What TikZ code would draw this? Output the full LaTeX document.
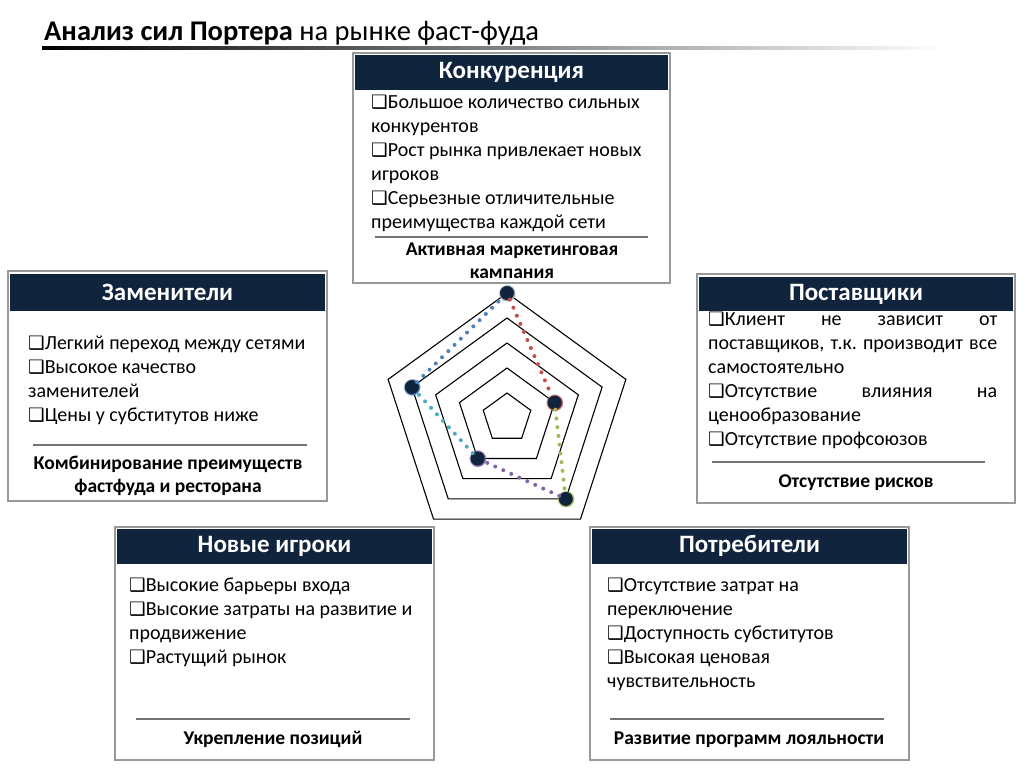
\documentclass[tikz,border=0pt]{standalone}
\usepackage{fontspec}
\usepackage{graphicx}
\setmainfont{Carlito}
\newfontfamily\symfont{DejaVu Sans}
\usetikzlibrary{calc,shadows,fadings}
\definecolor{navy}{RGB}{16,36,62}
\definecolor{linered}{RGB}{192,80,77}
\definecolor{linegreen}{RGB}{155,187,89}
\definecolor{linepurple}{RGB}{128,100,162}
\definecolor{lineteal}{RGB}{75,172,198}
\definecolor{lineblue}{RGB}{79,129,189}
\def\chk{{\symfont\fontsize{18.5}{18.5}\selectfont\char"2751}}
\tikzset{
  frame/.style={draw=black!40, line width=2pt, fill=white},
  head/.style={fill=navy, text=white, font=\bfseries\fontsize{25}{25}\selectfont,
    minimum width=313pt, minimum height=35pt, inner sep=0pt},
  body/.style={anchor=north west, inner sep=0pt, align=flush left,
    font=\fontsize{20}{24}\selectfont\frenchspacing},
  foot/.style={anchor=north, inner sep=0pt, align=center,
    font=\bfseries\fontsize{19.5}{23}\selectfont},
  sepline/.style={draw=black!55, line width=2.5pt},
  dot/.style={circle, fill=navy, minimum size=14pt, inner sep=0pt,
    circular glow={fill=#1}},
  conn/.style={draw=#1, line width=4pt, line cap=round, dash pattern=on 0pt off 8.8pt}
}
\begin{document}
\begin{tikzpicture}[x=1pt, y=-1pt]
  %%%%% START %%%%%
  \useasboundingbox[fill=white] (0,0) rectangle (1024,768);

  % title
  \node[anchor=base west, inner sep=0pt, font=\fontsize{28.5}{28.5}\selectfont] (title) at (44,41)
    {\textbf{Анализ сил Портера} на рынке фаст-фуда};
  \shade[left color=black, right color=white] (42,46.5) rectangle (945,49.5);

  % Конкуренция
  \draw[frame] (353,53) rectangle (670,283);
  \node[head] (konkH) at (511.5,72.5) {Конкуренция};
  \node[body, text width=290pt] (konkB) at (371,91.5) {\strut\chk Большое количество сильных\\
    конкурентов\\
    \chk Рост рынка привлекает новых\\
    игроков\\
    \chk Серьезные отличительные\\
    преимущества каждой сети};
  \draw[sepline] (375,237) -- (648,237);
  \node[foot] (konkF) at (512,239) {\strut Активная маркетинговая\\ кампания};

  % Заменители
  \draw[frame] (8,271) rectangle (327,501);
  \node[head, minimum width=315pt, minimum height=37pt] (zamH) at (167.5,292.5) {Заменители};
  \node[body, text width=290pt] (zamB) at (28,332.5) {\strut\chk Легкий переход между сетями\\
    \chk Высокое качество\\
    заменителей\\
    \chk Цены у субститутов ниже};
  \draw[sepline] (33,445) -- (307,445);
  \node[foot] (zamF) at (168,453) {\strut Комбинирование преимуществ\\ фастфуда и ресторана};

  % Поставщики
  \draw[frame] (697,274) rectangle (1015,503);
  \node[head, minimum width=314pt, minimum height=34pt] (postH) at (856,294) {Поставщики};
  \node[body, text width=289pt] (postB) at (708,308.5) {\strut\makebox[\hsize][s]{\chk Клиент не зависит от}\\
    \makebox[\hsize][s]{поставщиков, т.к. производит все}\\
    самостоятельно\\
    \makebox[\hsize][s]{\chk Отсутствие влияния на}\\
    ценообразование\\
    \chk Отсутствие профсоюзов};
  \draw[sepline] (712,462) -- (985,462);
  \node[foot] (postF) at (856,471) {\strut Отсутствие рисков};

  % Новые игроки
  \draw[frame] (115,527) rectangle (434,760);
  \node[head, minimum width=315pt] (newH) at (274.5,546) {Новые игроки};
  \node[body, text width=290pt] (newB) at (129,574.5) {\strut\chk Высокие барьеры входа\\
    \chk Высокие затраты на развитие и\\
    продвижение\\
    \chk Растущий рынок};
  \draw[sepline] (136,719) -- (410,719);
  \node[foot] (newF) at (273,728) {\strut Укрепление позиций};

  % Потребители
  \draw[frame] (590,527) rectangle (909,760);
  \node[head, minimum width=315pt] (consH) at (749.5,546) {Потребители};
  \node[body, text width=290pt] (consB) at (607,574.5) {\strut\chk Отсутствие затрат на\\
    переключение\\
    \chk Доступность субститутов\\
    \chk Высокая ценовая\\
    чувствительность};
  \draw[sepline] (610,719) -- (884,719);
  \node[foot] (consF) at (749,728) {\strut Развитие программ лояльности};

  % radar
  \coordinate (c) at (507,418);
  \begin{scope}[shift={(c)}, y=1pt]
    \foreach \r in {25,50,75,100,125}
      \draw[line width=1.1pt] (90:\r) -- (162:\r) -- (234:\r) -- (306:\r) -- (18:\r) -- cycle;
    \node[dot=navy!40] (pT) at (90:125) {};
    \node[dot=linered] (pR) at (18:50) {};
    \node[dot=linegreen] (pBR) at (306:100) {};
    \node[dot=linepurple] (pBL) at (234:50) {};
    \node[dot=lineblue] (pL) at (162:100) {};
  \end{scope}
  \draw[conn=linered] (pT) -- (pR);
  \draw[conn=linegreen] (pR) -- (pBR);
  \draw[conn=linepurple] (pBR) -- (pBL);
  \draw[conn=lineteal] (pBL) -- (pL);
  \draw[conn=lineblue] (pL) -- (pT);
  %%%%% END %%%%%
\end{tikzpicture}
\end{document}
